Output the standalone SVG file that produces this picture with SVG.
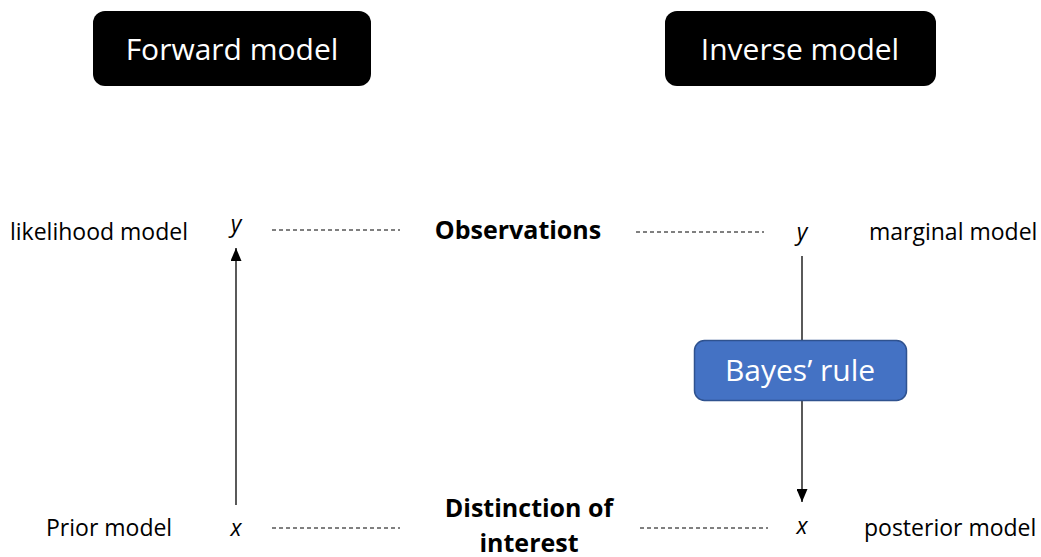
<svg xmlns="http://www.w3.org/2000/svg" width="1041" height="557" viewBox="0 0 1041 557">
  <defs>
    <marker id="arrow" viewBox="0 0 13 11" refX="13" refY="5.5" markerWidth="13" markerHeight="11" markerUnits="userSpaceOnUse" orient="auto">
      <path d="M0,0 L13,5.5 L0,11 Z" fill="#000"/>
    </marker>
    <style>
      text { font-family: "Open Sans", "Noto Sans", sans-serif; fill: #000; }
      .title { font-size: 30px; fill: #fff; text-anchor: middle; }
      .label { font-size: 23px; }
      .var { font-size: 23px; font-style: italic; text-anchor: middle; }
      .bold { font-size: 25px; font-weight: bold; text-anchor: middle; }
      .dash { stroke: #000; stroke-width: 1; stroke-dasharray: 4 3; fill: none; }
      .conn { stroke: #000; stroke-width: 1.3; fill: none; }
    </style>
  </defs>

  <rect width="1041" height="557" fill="#fff"/>

  <g id="forward-model">
    <rect x="93" y="11" width="278" height="75" rx="12" fill="#000"/>
    <text class="title" x="232" y="60">Forward model</text>
  </g>

  <g id="inverse-model">
    <rect x="665" y="11" width="271" height="75" rx="12" fill="#000"/>
    <text class="title" x="800" y="60">Inverse model</text>
  </g>

  <g id="observations">
    <text class="bold" x="518" y="239">Observations</text>
  </g>

  <g id="distinction">
    <text class="bold" x="529" y="517">Distinction of</text>
    <text class="bold" x="529" y="552">interest</text>
  </g>

  <g id="forward-y">
    <text class="label" x="10" y="240">likelihood model</text>
    <text class="var" x="236" y="232">y</text>
  </g>

  <g id="forward-x">
    <text class="label" x="46" y="536">Prior model</text>
    <text class="var" x="236" y="536">x</text>
  </g>

  <g id="inverse-y">
    <text class="var" x="802" y="240">y</text>
    <text class="label" x="869" y="240">marginal model</text>
  </g>

  <g id="inverse-x">
    <text class="var" x="802" y="534">x</text>
    <text class="label" x="864" y="536">posterior model</text>
  </g>

  <g id="connectors">
    <line class="dash" x1="272" y1="230" x2="400" y2="230"/>
    <line class="dash" x1="636" y1="232" x2="764" y2="232"/>
    <line class="dash" x1="272" y1="528" x2="400" y2="528"/>
    <line class="dash" x1="640" y1="528" x2="768" y2="528"/>
    <line class="conn" x1="236" y1="505" x2="236" y2="248" marker-end="url(#arrow)"/>
    <line class="conn" x1="802" y1="256" x2="802" y2="502" marker-end="url(#arrow)"/>
  </g>

  <g id="bayes-rule">
    <rect x="694.5" y="340.5" width="212" height="60" rx="10" fill="#4472C4" stroke="#2F528F" stroke-width="1.5"/>
    <text class="title" x="800" y="381">Bayes’ rule</text>
  </g>
</svg>
